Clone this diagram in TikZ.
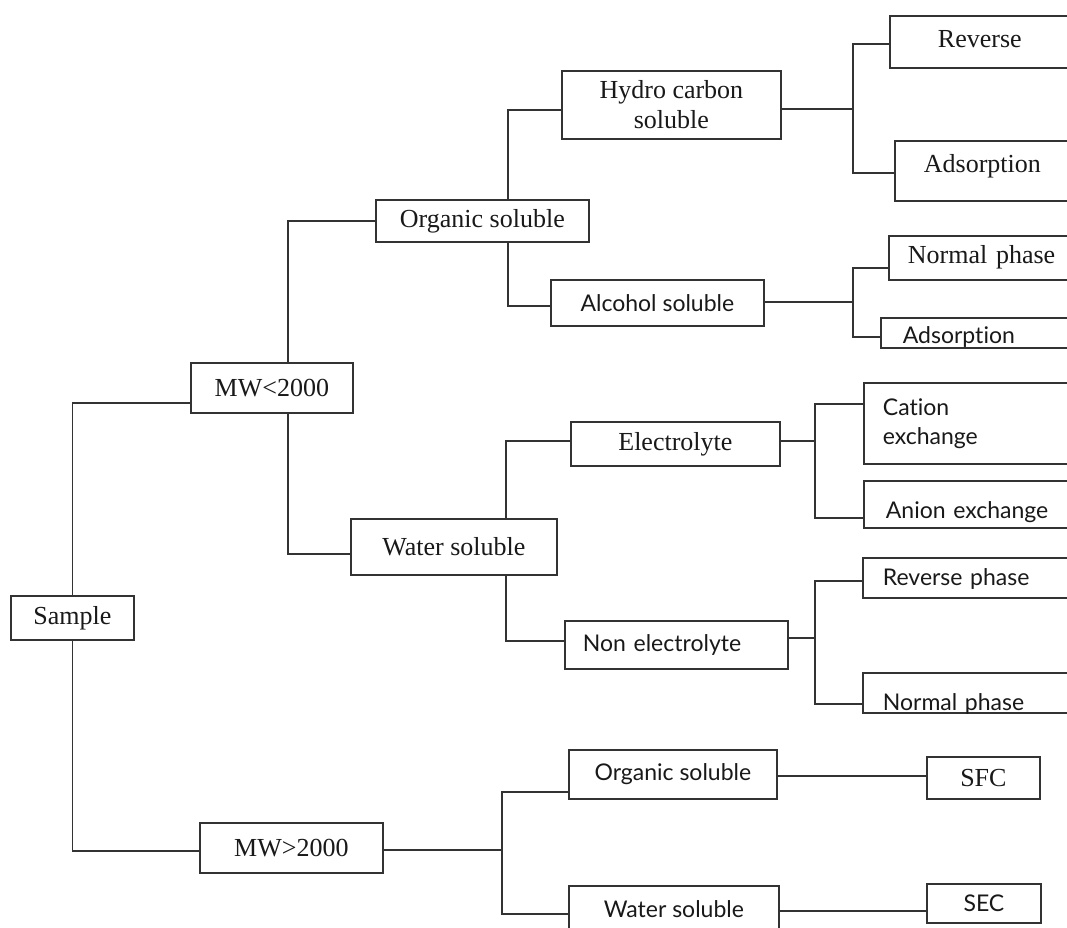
\documentclass[tikz,border=0pt]{standalone}
\usepackage{fontspec}
\setmainfont{Liberation Serif}
\newfontfamily\optf{Lato}[Ligatures={NoCommon}]
\usetikzlibrary{calc}
\begin{document}
\begin{tikzpicture}[x=1pt,y=-1pt,
  ln/.style={line width=1.8pt, draw=black!80},
  bx/.style={draw=black!80, line width=1.8pt, anchor=north west, inner sep=0pt, align=center, text=black!90},
  sr/.style={font=\fontsize{26}{30}\selectfont},
  ss/.style={font=\optf\fontsize{23}{29}\selectfont},
  eb/.style={bx, align=left},
]
\useasboundingbox (0,0) rectangle (1067,927);
\clip (0,0) rectangle (1067,927);
\fill[white] (0,0) rectangle (1067,927);

% boxes fully inside
\node[bx,sr,minimum width=123pt,minimum height=44pt] (sam) at (10,595) {Sample};
\node[bx,sr,minimum width=162pt,minimum height=50pt] (mwl) at (190,362) {MW<2000};
\node[bx,sr,minimum width=183pt,minimum height=50pt] (mwg) at (199,822) {MW>2000};
\node[bx,sr,minimum width=213pt,minimum height=42pt] (org1) at (375,199) {Organic soluble};
\node[bx,sr,minimum width=219pt,minimum height=68pt] (hyd) at (561,70) {Hydro carbon\\soluble};
\node[bx,ss,minimum width=213pt,minimum height=46pt] (alc) at (550,279) {Alcohol soluble};
\node[bx,sr,minimum width=206pt,minimum height=56pt] (wat1) at (350,518) {Water soluble};
\node[bx,sr,minimum width=209pt,minimum height=44pt] (ele) at (570,421) {Electrolyte};
\node[eb,ss,inner xsep=18pt,text width=187pt,minimum height=48pt] (nel) at (564,620) {Non electrolyte};
\node[bx,ss,minimum width=208pt,minimum height=49pt] (org2) at (568,749) {Organic soluble};
\node[bx,ss,minimum width=210pt,text height=32pt,text depth=28pt] (wat2) at (568,885) {Water soluble};
\node[bx,sr,minimum width=113pt,minimum height=42pt] (sfc) at (926,756) {SFC};
\node[bx,ss,minimum width=114pt,minimum height=39pt] (sec) at (926,883) {SEC};

% boxes running off the right edge
\node[eb,sr,inner xsep=48pt,text width=105pt,text height=32pt,text depth=20pt] (rev) at (889,15) {Reverse};
\node[eb,sr,inner xsep=29pt,text width=138pt,text height=32pt,text depth=28pt] (ads1) at (894,140) {Adsorption};
\node[eb,sr,inner xsep=19pt,text width=164pt,text height=28pt,text depth=16pt] (nor1) at (888,235) {Normal phase};
\node[eb,ss,inner xsep=22pt,text width=166pt,text height=26pt,text depth=4pt] (ads2) at (880,317) {Adsorption};
\node[eb,ss,inner xsep=19pt,text width=189pt,minimum height=81pt] (cat) at (863,382) {Cation\\exchange};
\node[eb,ss,inner xsep=22pt,text width=183pt,text height=38pt,text depth=9pt] (ani) at (863,480) {Anion exchange};
\node[eb,ss,inner xsep=20pt,text width=188pt,text height=28pt,text depth=12pt] (revp) at (862,557) {Reverse phase};
\node[eb,ss,inner xsep=20pt,text width=188pt,text height=38pt,text depth=2pt] (nor2) at (862,672) {Normal phase};

% the scan cuts the text at the lower edge of these two boxes
\fill[white] ([yshift=-0.9pt]ads2.south west) rectangle ([yshift=-10pt]ads2.south east);
\fill[white] ([yshift=-0.9pt]nor2.south west) rectangle ([yshift=-10pt]nor2.south east);

% junctions
\coordinate (j1) at (853,109);
\coordinate (j2) at (853,302);
\coordinate (j3) at (815,441);
\coordinate (j4) at (815,638);
\coordinate (j5) at (502,850);
\coordinate (o2) at ([yshift=-1.5pt]org2.east);
\coordinate (w2) at ([yshift=5pt]wat2.east);

% connectors
\draw[ln] (sam.north) |- ([yshift=-15pt]mwl.west);
\draw[ln] (sam.south) |- ([yshift=-3pt]mwg.west);
\draw[ln] ([xshift=16pt]mwl.north) |- (org1.west);
\draw[ln] ([xshift=16pt]mwl.south) |- ([yshift=-7pt]wat1.west);
\draw[ln] ([xshift=25.5pt]org1.north) |- ([yshift=-5pt]hyd.west);
\draw[ln] ([xshift=25.5pt]org1.south) |- ([yshift=-3pt]alc.west);
\draw[ln] (hyd.east |- j1) -- (j1);
\draw[ln] ([yshift=-2pt]rev.west) -| (j1) |- ([yshift=-2pt]ads1.west);
\draw[ln] (alc.east |- j2) -- (j2);
\draw[ln] ([yshift=-10pt]nor1.west) -| (j2) |- ([yshift=-4pt]ads2.west);
\draw[ln] ([xshift=52pt]wat1.north) |- (ele.west |- j3);
\draw[ln] ([xshift=52pt]wat1.south) |- ([yshift=4pt]nel.west);
\draw[ln] (ele.east |- j3) -- (j3);
\draw[ln] ([yshift=19.5pt]cat.west) -| (j3) |- ([yshift=-13.5pt]ani.west);
\draw[ln] (nel.east |- j4) -- (j4);
\draw[ln] ([yshift=-3pt]revp.west) -| (j4) |- ([yshift=-11pt]nor2.west);
\draw[ln] (mwg.east |- j5) -- (j5);
\draw[ln] ([yshift=-17.5pt]org2.west) -| (j5) |- ([yshift=2pt]wat2.west);
\draw[ln] (o2) -- (o2 -| sfc.west);
\draw[ln] (w2) -- (w2 -| sec.west);
\end{tikzpicture}
\end{document}
